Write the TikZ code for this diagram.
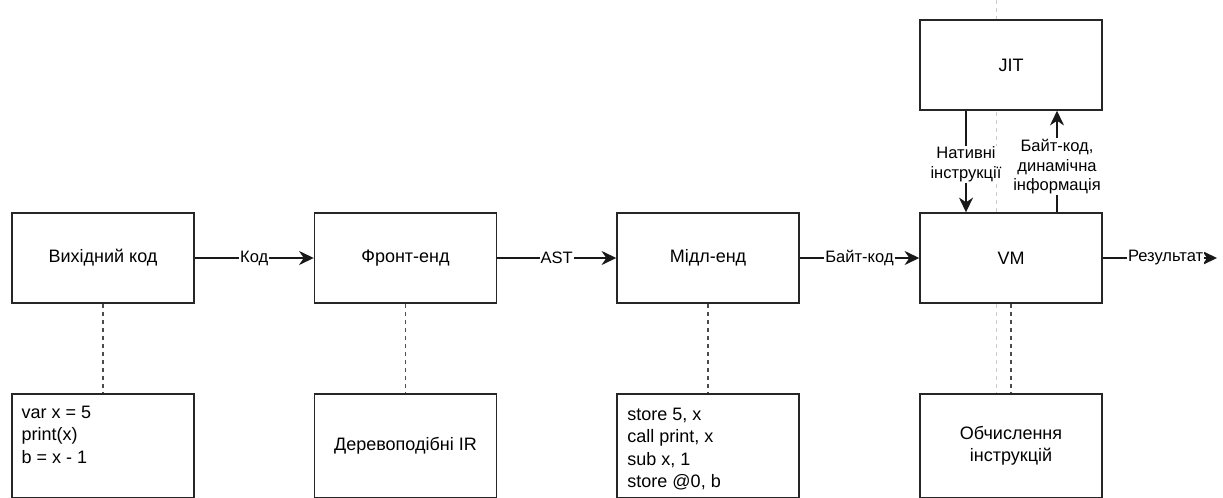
\documentclass[tikz,border=0pt]{standalone}
\usepackage{fontspec}
\setmainfont{Liberation Sans}
\usetikzlibrary{arrows.meta}
\begin{document}
\begin{tikzpicture}[x=0.75pt,y=-0.75pt,
  box/.style={draw=black!85, line width=1.1pt, fill=white,
    minimum width=136.5pt, minimum height=67.5pt, inner sep=0pt,
    align=center, font=\fontsize{13.5}{16.5}\selectfont},
  notebox/.style={box, minimum height=78pt},
  code/.style={anchor=north west, inner sep=0pt, align=left,
    font=\fontsize{13.5}{16.9}\selectfont},
  flow/.style={line width=1.1pt, draw=black!90,
    arrows={-Stealth[length=11pt,width=10.5pt,inset=3.5pt]}},
  elabel/.style={fill=white, inner sep=0.8pt, align=center,
    font=\fontsize{12.4}{14.9}\selectfont},
  link/.style={line width=1.1pt, draw=black!70, dash pattern=on 3pt off 3pt},
  guide/.style={line width=0.5pt, draw=black!20, dash pattern=on 3pt off 3pt}]
\clip (0,0) rectangle (1223,497);
\fill[white] (0,0) rectangle (1223,497);

% light guide line through the VM column
\coordinate (gtop) at (996,0);
\coordinate (gbot) at (996,497);
\draw[guide] (gtop) -- (gbot);

% main pipeline
\node[box] (src)   at (103,258)   {Вихідний код};
\node[box] (front) at (405.5,258) {Фронт-енд};
\node[box] (mid)   at (708,258)   {Мідл-енд};
\node[box] (vm)    at (1011,258)  {VM};
\node[box] (jit)   at (1011,65)   {JIT};
\coordinate (out) at (1217,258);

% representations under each stage
\node[notebox] (srcnote)   at (103,446)   {};
\node[notebox] (frontnote) at (405.5,446) {Деревоподібні IR};
\node[notebox] (midnote)   at (708,446)   {};
\node[notebox] (vmnote)    at (1011,446)  {Обчислення\\інструкцій};

\node[code] (srccode) at ([xshift=7.5pt,yshift=-9.2pt]srcnote.north west)
  {var x = 5\\print(x)\\b = x - 1};
\node[code] (midcode) at ([xshift=8.2pt,yshift=-10.6pt]midnote.north west)
  {store 5, x\\call print, x\\sub x, 1\\store @0, b};

% flow arrows
\draw[flow] (src) -- node[elabel] {Код} (front);
\draw[flow] (front) -- node[elabel] {AST} (mid);
\draw[flow] (mid) -- node[elabel] {Байт-код} (vm);
\draw[flow] (vm) -- node[elabel, pos=0.55] {Результат} (out);

\draw[flow] ([xshift=-33.75pt]jit.south) -- node[elabel, pos=0.53]
  {Нативні\\інструкції} ([xshift=-33.75pt]vm.north);
\draw[flow] ([xshift=34.5pt]vm.north) -- node[elabel, pos=0.45]
  {Байт-код,\\динамічна\\інформація} ([xshift=34.5pt]jit.south);

% dashed links to the representations
\draw[link] (src) -- (srcnote);
\draw[link] (front) -- (frontnote);
\draw[link] (mid) -- (midnote);
\draw[link] (vm) -- (vmnote);
\end{tikzpicture}
\end{document}
